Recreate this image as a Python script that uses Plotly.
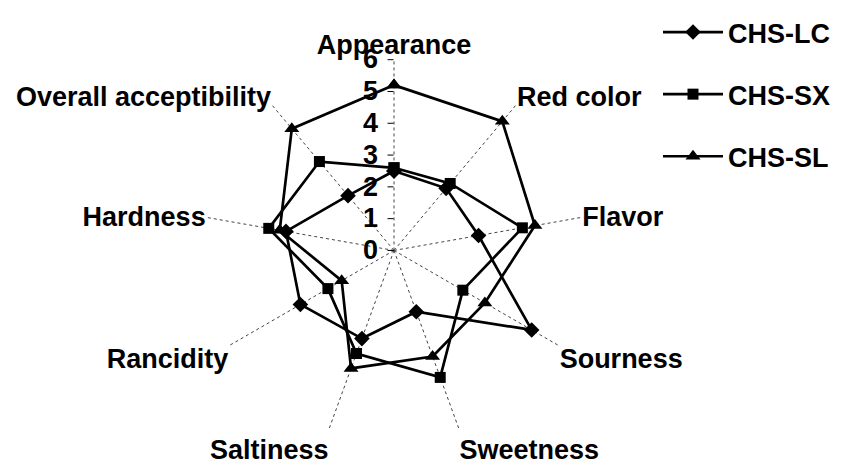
import plotly.graph_objects as go

categories = ["Appearance", "Red color", "Flavor", "Sourness", "Sweetness",
              "Saltiness", "Rancidity", "Hardness", "Overall acceptibility"]
chs_lc = [2.5, 2.55, 2.7, 5.0, 2.05, 2.95, 3.4, 3.45, 2.25]
chs_sx = [2.6, 2.75, 4.1, 2.5, 4.25, 3.45, 2.4, 4.0, 3.65]
chs_sl = [5.2, 5.3, 4.5, 3.3, 3.55, 3.95, 1.9, 3.65, 5.0]
radial_ticks = [0, 1, 2, 3, 4, 5, 6]

series = [
    ("CHS-LC", chs_lc, "diamond", 12),
    ("CHS-SX", chs_sx, "square", 11),
    ("CHS-SL", chs_sl, "triangle-up", 13),
]

FONT = "Liberation Sans, Arial, sans-serif"

fig = go.Figure()
for name, vals, sym, size in series:
    fig.add_trace(go.Scatterpolar(
        r=vals + vals[:1],
        theta=categories + categories[:1],
        mode="lines+markers",
        name=name,
        legendgroup=name,
        line=dict(color="black", width=2.7),
        marker=dict(symbol=sym, size=size, color="black"),
    ))

fig.update_layout(
    width=841, height=465,
    margin=dict(l=0, r=0, t=0, b=0),
    paper_bgcolor="white",
    plot_bgcolor="white",
    font=dict(family=FONT, size=27, color="black", weight="bold"),
    polar=dict(
        bgcolor="white",
        domain=dict(x=[194/841, 578/841], y=[32/465, 416/465]),
        angularaxis=dict(
            rotation=90,
            direction="clockwise",
            showline=False,
            showgrid=True,
            gridcolor="#444444",
            gridwidth=1,
            griddash="dot",
            ticks="",
            tickfont=dict(family=FONT, size=27, color="black", weight="bold"),
        ),
        radialaxis=dict(
            range=[0, 6],
            tickvals=radial_ticks,
            ticktext=[str(v) for v in radial_ticks],
            angle=90,
            tickangle=90,
            side="counterclockwise",
            showgrid=False,
            showline=False,
            ticks="outside",
            ticklen=6,
            tickcolor="black",
            tickfont=dict(family=FONT, size=27, color="black", weight="bold"),
        ),
    ),
    legend=dict(
        x=650/841, y=1.007, xanchor="left", yanchor="top",
        font=dict(family=FONT, size=27, color="black", weight="bold"),
        tracegroupgap=24,
        itemwidth=60,
        bgcolor="rgba(0,0,0,0)",
    ),
)

fig.write_html("out.html")
